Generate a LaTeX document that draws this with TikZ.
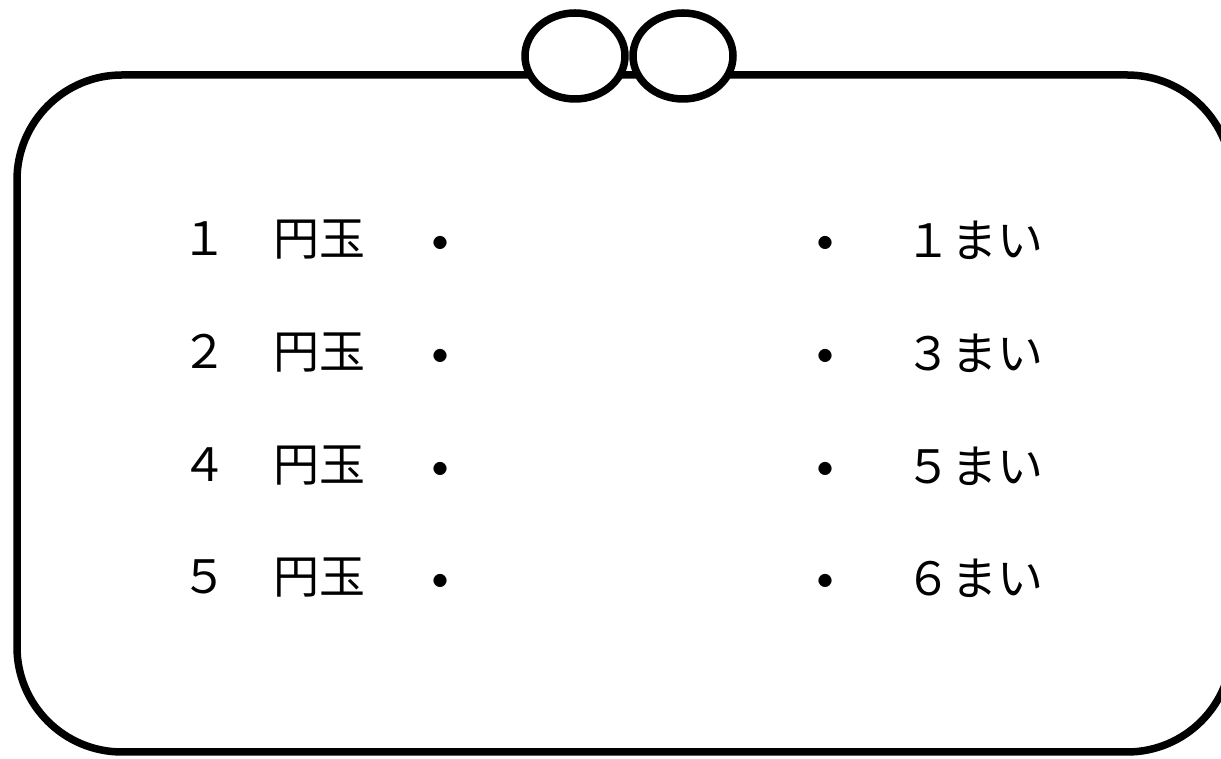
\documentclass[tikz,border=0pt]{standalone}
\usepackage{fontspec}
\setmainfont{Noto Sans CJK JP}
\usepackage{tikz}

\begin{document}
\begin{tikzpicture}[x=1pt, y=1pt, line width=7.5pt]
\useasboundingbox (0,0) rectangle (1221,759);

% frame and the two rings
\draw[rounded corners=105pt] (17,7) rectangle (1232,684);
\draw[fill=white] (575,703) ellipse (50 and 43);
\draw[fill=white] (683,703) ellipse (50 and 43);

\tikzstyle{every node}=[inner sep=0pt, anchor=west, font=\fontsize{46}{50}\selectfont]
\draw    (178, 519)    node (c1) {１　円玉}
         (178, 406)    node (c2) {２　円玉}
         (178, 293)    node (c4) {４　円玉}
         (178, 181)    node (c5) {５　円玉};

\tikzstyle{every node}=[inner sep=0pt, font=\fontsize{62}{66}\selectfont]
\draw    (440, 508)    node (p1) {・}
         (440, 395)    node (p2) {・}
         (440, 282)    node (p4) {・}
         (440, 170)    node (p5) {・};

\draw    (825, 508)    node (q1) {・}
         (825, 395)    node (q3) {・}
         (825, 282)    node (q5) {・}
         (825, 170)    node (q6) {・};

\tikzstyle{every node}=[inner sep=0pt, anchor=west, font=\fontsize{46}{50}\selectfont]
\draw    (902, 519)    node (m1) {１まい}
         (902, 406)    node (m3) {３まい}
         (902, 293)    node (m5) {５まい}
         (902, 181)    node (m6) {６まい};

\end{tikzpicture}
\end{document}
